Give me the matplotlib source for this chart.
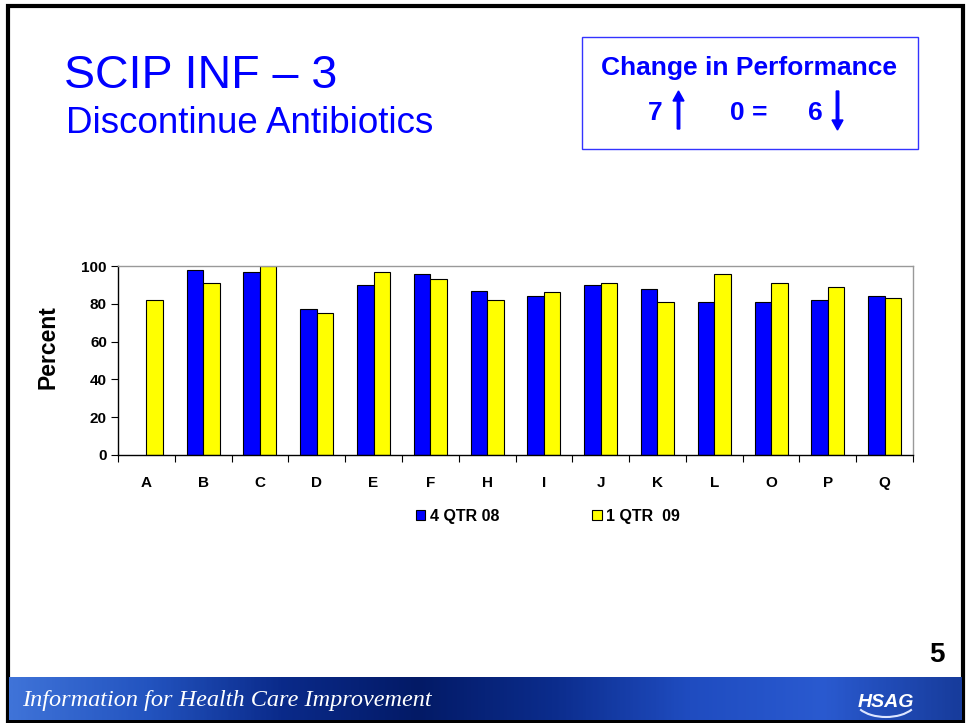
import numpy as np
import matplotlib
matplotlib.use("Agg")
import matplotlib.pyplot as plt
from matplotlib.patches import Rectangle, FancyArrow, Arc
from matplotlib.colors import LinearSegmentedColormap

plt.rcParams['font.family'] = ['Liberation Sans', 'DejaVu Sans']

# data
hospitals = ["A", "B", "C", "D", "E", "F", "H", "I", "J", "K", "L", "O", "P", "Q"]
qtr4_08 = [np.nan, 98, 97, 77, 90, 96, 87, 84, 90, 88, 81, 81, 82, 84]
qtr1_09 = [82, 91, 100, 75, 97, 93, 82, 86, 91, 81, 96, 91, 89, 83]
series_names = ["4 QTR 08", "1 QTR  09"]
yticks = [0, 20, 40, 60, 80, 100]

W, H = 966, 723
fig = plt.figure(figsize=(W / 100, H / 100), dpi=100)

# overlay axes in pixel coords for slide decoration
deco = fig.add_axes([0, 0, 1, 1], zorder=0)
deco.set_xlim(0, W)
deco.set_ylim(H, 0)
deco.axis("off")

# slide frame
deco.add_patch(Rectangle((7.5, 5.5), 955.5, 716, fill=False, lw=3, ec="black"))

# footer banner
cmap = LinearSegmentedColormap.from_list(
    "banner", ["#3f73d8", "#2354c0", "#0a2a8a", "#031a66", "#0b2c8c", "#1f4cc0", "#2a5ad0", "#173c9c"])
grad = np.linspace(0, 1, 400).reshape(1, -1)
deco.imshow(grad, cmap=cmap, extent=(9, 962, 720, 677), aspect="auto", zorder=1)
deco.text(22, 706, "Information for Health Care Improvement", color="white",
          fontsize=17.5, style="italic", family=["Liberation Serif", "DejaVu Serif"],
          va="baseline", zorder=2)
deco.text(886, 707, "HSAG", color="white", fontsize=14, weight="bold", style="italic",
          ha="center", va="baseline", zorder=2)
deco.add_patch(Arc((886, 700), 62, 34, theta1=20, theta2=160, color="#dde6ff", lw=1.5, zorder=2))

# titles
deco.text(64, 88, "SCIP INF \u2013 3", color="#0000ff", fontsize=33.5, va="baseline")
deco.text(66, 133, "Discontinue Antibiotics", color="#0000ff", fontsize=26.5, va="baseline")

# change in performance box
deco.add_patch(Rectangle((582, 37), 336, 112, fill=False, lw=1, ec="#3333ff"))
deco.text(749, 75, "Change in Performance", color="#0000ff", fontsize=19,
          weight="bold", ha="center", va="baseline")
deco.text(655, 120, "7", color="#0000ff", fontsize=19, weight="bold", ha="center", va="baseline")
deco.text(749, 120, "0 =", color="#0000ff", fontsize=19, weight="bold", ha="center", va="baseline")
deco.text(815, 120, "6", color="#0000ff", fontsize=19, weight="bold", ha="center", va="baseline")
deco.add_patch(FancyArrow(678.5, 129, 0, -38, width=2.5, head_width=11, head_length=10,
                          length_includes_head=True, color="#0000ff"))
deco.add_patch(FancyArrow(837.5, 91, 0, 39, width=2.5, head_width=11, head_length=10,
                          length_includes_head=True, color="#0000ff"))

# page number
deco.text(937, 662, "5", fontsize=20, weight="bold", ha="center", va="baseline")

# chart
ax = fig.add_axes([118 / W, 1 - 455 / H, (913 - 118) / W, (455 - 266) / H], zorder=2)
x = np.arange(len(hospitals))
bw = 0.29
ax.bar(x - bw / 2, qtr4_08, bw, color="#0000ff", edgecolor="black", lw=0.8, label=series_names[0])
ax.bar(x + bw / 2, qtr1_09, bw, color="#ffff00", edgecolor="black", lw=0.8, label=series_names[1])

ax.set_xlim(-0.5, len(hospitals) - 0.5)
ax.set_ylim(0, 100)
ax.set_yticks(yticks)
ax.set_yticklabels([str(t) for t in yticks], fontsize=11, weight="bold")
ax.set_xticks(x)
ax.set_xticklabels(hospitals, fontsize=11, weight="bold")
ax.set_xticks(np.arange(len(hospitals) + 1) - 0.5, minor=True)
ax.tick_params(axis="x", which="major", length=0, pad=15)
ax.tick_params(axis="x", which="minor", length=5, width=0.8, direction="out")
ax.tick_params(axis="y", length=5, width=0.8, direction="out", pad=3)
ax.set_ylabel("Percent", fontsize=16.5, weight="bold")
ax.yaxis.set_label_coords(-0.074, 0.57)

for side in ["top", "right"]:
    ax.spines[side].set_color("#999999")
    ax.spines[side].set_linewidth(1)
for side in ["left", "bottom"]:
    ax.spines[side].set_color("black")
    ax.spines[side].set_linewidth(1)

leg = ax.legend(loc="center", bbox_to_anchor=(548 / W, 1 - 516 / H),
                bbox_transform=fig.transFigure, ncol=2, frameon=False,
                handlelength=0.6, handleheight=0.6, handletextpad=0.3,
                columnspacing=5.8, prop={"size": 11.5, "weight": "bold"})

fig.savefig("out.png", dpi=100)
